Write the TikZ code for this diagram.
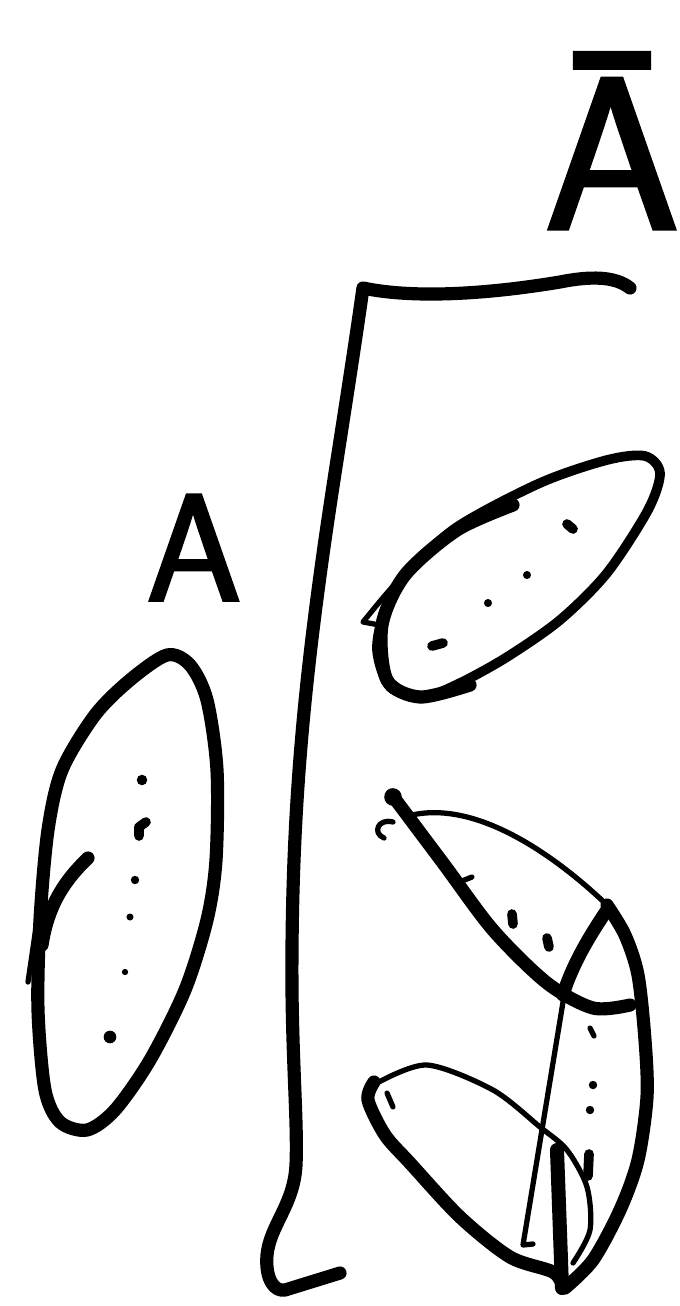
\documentclass[tikz,border=0pt]{standalone}
\usepackage{fontspec}
\newfontfamily\marqueur[FakeBold=2.5]{Latin Modern Sans}
\begin{document}
\begin{tikzpicture}[x=0.02cm, y=-0.02cm,
    trait/.style={line width=7.5pt, line cap=round, line join=round},
    moyen/.style={line width=5.5pt, line cap=round, line join=round},
    fin/.style={line width=3pt, line cap=round, line join=round},
    lettre/.style={inner sep=0pt, anchor=base}]

    \useasboundingbox (0,0) rectangle (680,1306);

    % Lettres
    \node[lettre, font=\marqueur\fontsize{122}{122}\selectfont] (Abar) at (612,228) {Ā};
    \node[lettre, font=\marqueur\fontsize{86}{86}\selectfont] (A) at (194,600) {A};

    % Crochet (frontière)
    \draw[trait] (630,288) .. controls (615,276) and (590,276) .. (560,282)
        .. controls (500,292) and (420,300) .. (363,288)
        .. controls (350,380) and (335,470) .. (325,540)
        .. controls (305,680) and (293,800) .. (292,950)
        .. controls (291,1050) and (298,1120) .. (296,1165)
        .. controls (294,1205) and (270,1225) .. (267,1255)
        .. controls (265,1280) and (275,1292) .. (285,1290) -- (340,1273);

    % Ensemble A (à gauche)
    \draw[trait] plot[smooth cycle] coordinates {(167,655) (190,665) (207,700)
        (217,770) (216,860) (207,920) (185,990) (150,1060) (115,1110) (87,1130)
        (60,1122) (45,1090) (38,1010) (40,920) (48,830) (62,770) (95,715) (130,680)};
    \draw[fin] (28,982) -- (40,900);
    \draw[trait] (88,858) .. controls (65,880) and (48,905) .. (42,945);
    \fill (142,780) circle[radius=3pt];
    \draw[moyen] (139,836) -- (139,827) -- (146,822);
    \fill (135,880) circle[radius=2.4pt];
    \fill (130,917) circle[radius=2pt];
    \fill (125,972) circle[radius=1.8pt];
    \fill (110,1037) circle[radius=3.6pt];

    % Ellipse en haut à droite
    \draw[moyen] plot[smooth cycle] coordinates {(660,473) (648,510) (607,573)
        (560,620) (507,657) (460,683) (423,697) (390,687) (377,650) (385,610)
        (407,573) (457,527) (540,483) (607,460) (645,456)};
    \draw[trait] plot[smooth] coordinates {(513,505) (457,530) (405,575)
        (382,625) (387,680) (420,697) (470,685)};
    \draw[fin] (385,626) -- (363,622) .. controls (385,595) and (405,570) .. (440,540);
    \draw[moyen] (567,524) -- (573,529);
    \fill (527,575) circle[radius=2.3pt];
    \fill (488,603) circle[radius=2.3pt];
    \draw[moyen] (432,646) -- (443,643);

    % Ensemble en bas à droite (partie haute)
    \draw[trait] plot[smooth] coordinates {(392,795) (443,863) (493,930)
        (547,983) (593,1008) (630,1005)};
    \fill (393,797) circle[radius=5pt];
    \draw[fin] (393,822) .. controls (378,818) and (372,833) .. (384,838);
    \draw[fin] (412,815) .. controls (480,800) and (560,860) .. (607,905);
    \draw[trait] (607,910) .. controls (590,935) and (572,965) .. (563,995);
    \draw[fin] (565,990) -- (523,1245) -- (533,1244);
    \draw[trait] plot[smooth] coordinates {(607,905) (625,935) (638,975)
        (645,1040) (647,1097) (638,1160) (620,1210) (593,1260) (565,1288)};
    \draw[fin] (462,881) -- (472,877);
    \draw[moyen] (512,914) -- (513,924);
    \draw[moyen] (547,938) -- (549,947);
    \draw[fin] (590,1028) -- (594,1036);
    \fill (593,1085) circle[radius=2.4pt];
    \fill (590,1110) circle[radius=2.4pt];
    \draw[moyen] (589,1154) -- (588,1176);

    % Ellipse en bas
    \draw[fin] plot[smooth] coordinates {(377,1083) (427,1065) (493,1090)
        (540,1127) (567,1150) (587,1187) (590,1230) (573,1263)};
    \draw[trait] plot[smooth] coordinates {(374,1082) (368,1100) (385,1135)
        (410,1163) (460,1217) (510,1257) (553,1272) (563,1287)};
    \draw[line width=8pt, line cap=round] (557,1150) -- (562,1288);
    \draw[fin] (387,1093) -- (393,1107);

\end{tikzpicture}
\end{document}
